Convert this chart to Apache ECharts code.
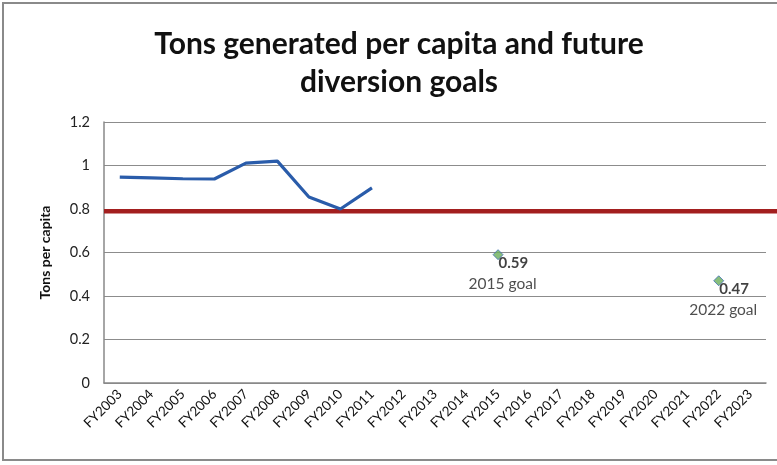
<!DOCTYPE html>
<html>
<head>
<meta charset="utf-8">
<script src="https://cdn.jsdelivr.net/npm/echarts@6/dist/echarts.min.js"></script>
<style>
  html, body { margin: 0; padding: 0; background: #fff; }
  #frame { position: absolute; left: 2px; top: 2px; width: 790px; height: 459px;
           border: 2px solid #8a8a8a; box-sizing: border-box; }
  #chart { width: 777px; height: 465px; position: absolute; left: 0; top: 0; }
</style>
</head>
<body>
<div id="frame"></div>
<div id="chart"></div>
<script>
// Fiscal years on the horizontal axis
const years = ['FY2003','FY2004','FY2005','FY2006','FY2007','FY2008','FY2009','FY2010','FY2011',
  'FY2012','FY2013','FY2014','FY2015','FY2016','FY2017','FY2018','FY2019','FY2020','FY2021','FY2022','FY2023'];
// Tons generated per capita, FY2003–FY2011
const tonsPerCapita = [0.947, 0.943, 0.939, 0.938, 1.011, 1.02, 0.855, 0.80, 0.897];
// Diversion goals
const goalYears = ['FY2015', 'FY2022'];
const goalValues = [0.59, 0.47];
const goalNames = ['2015 goal', '2022 goal'];
// Reference level drawn across the chart
const referenceLevel = 0.79;

const font = 'Lato, "Open Sans", sans-serif';
const chart = echarts.init(document.getElementById('chart'));

const lineData = years.map((y, i) => i < tonsPerCapita.length ? tonsPerCapita[i] : null);
const goalData = years.map(y => {
  const k = goalYears.indexOf(y);
  return k < 0 ? null : { value: goalValues[k], goal: goalNames[k] };
});

chart.setOption({
  animation: false,
  title: {
    text: 'Tons generated per capita and future\ndiversion goals',
    left: 394, top: 20, textAlign: 'center',
    textStyle: { fontFamily: font, fontWeight: 'bold', fontSize: 30, lineHeight: 38, color: '#111' }
  },
  grid: [
    { left: 104, right: 11, top: 122, bottom: 82 },
    { left: 104, right: 0, top: 122, bottom: 82 }
  ],
  xAxis: [
    {
      type: 'category', data: years, gridIndex: 0, boundaryGap: true,
      axisLine: { lineStyle: { color: '#888', width: 1.5 } },
      axisTick: { show: false },
      axisLabel: { rotate: 45, interval: 0, fontFamily: font, fontSize: 13.5, color: '#111', margin: 9 }
    },
    { type: 'value', gridIndex: 1, min: 0, max: 1, show: false }
  ],
  yAxis: [
    {
      type: 'value', gridIndex: 0, min: 0, max: 1.2, interval: 0.2,
      name: 'Tons per capita', nameLocation: 'middle', nameGap: 52, nameRotate: 90,
      nameTextStyle: { fontFamily: font, fontWeight: 'bold', fontSize: 14, color: '#111' },
      axisLine: { show: true, lineStyle: { color: '#888', width: 1.5 } },
      axisTick: { show: false },
      axisLabel: { fontFamily: font, fontSize: 14.5, color: '#222', margin: 14,
                   formatter: v => String(+v.toFixed(1)) },
      splitLine: { lineStyle: { color: '#8c8c8c', width: 1.2 } }
    },
    { type: 'value', gridIndex: 1, min: 0, max: 1.2, show: false }
  ],
  series: [
    {
      type: 'line', xAxisIndex: 1, yAxisIndex: 1,
      data: [[0, referenceLevel], [1, referenceLevel]],
      showSymbol: false, symbol: 'none',
      lineStyle: { color: '#a31f1f', width: 4.5 }, z: 1
    },
    {
      type: 'line', xAxisIndex: 0, yAxisIndex: 0, data: lineData,
      showSymbol: false, symbol: 'none', connectNulls: false,
      lineStyle: { color: '#2a5caa', width: 3.2 }, z: 3
    },
    {
      type: 'scatter', xAxisIndex: 0, yAxisIndex: 0, data: goalData,
      symbol: 'diamond', symbolSize: 10,
      itemStyle: { color: '#6aae5a', borderColor: '#3f6fb5', borderWidth: 1 },
      label: {
        show: true, position: [6, 3], align: 'left', verticalAlign: 'top',
        formatter: p => '{v|' + p.value + '}\n{g|' + p.data.goal + '}',
        rich: {
          v: { fontFamily: font, fontWeight: 'bold', fontSize: 15, color: '#111', lineHeight: 21 },
          g: { fontFamily: font, fontSize: 15.5, color: '#222', lineHeight: 21, padding: [0, 0, 0, -30] }
        }
      },
      z: 4
    }
  ]
});
</script>
</body>
</html>
